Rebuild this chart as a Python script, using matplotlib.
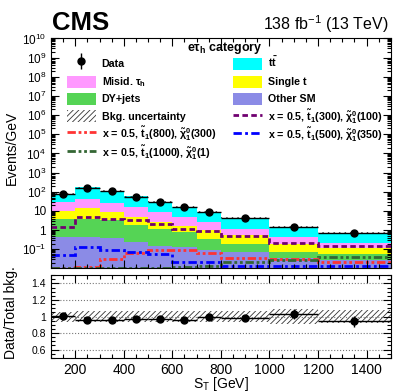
import numpy as np
import matplotlib
matplotlib.use('Agg')
import matplotlib.pyplot as plt
from matplotlib.patches import Patch, Rectangle
from matplotlib.lines import Line2D
from matplotlib.legend_handler import HandlerPatch
from matplotlib.ticker import FixedLocator, MultipleLocator, LogLocator, FuncFormatter, NullFormatter

plt.rcParams['font.family'] = 'Liberation Sans'
plt.rcParams['mathtext.fontset'] = 'custom'
plt.rcParams['mathtext.rm'] = 'Liberation Sans:bold'
plt.rcParams['mathtext.it'] = 'Liberation Sans:bold'
plt.rcParams['mathtext.bf'] = 'Liberation Sans:bold'
plt.rcParams['hatch.linewidth'] = 0.6

# bins in S_T [GeV]
edges = [100, 200, 300, 400, 500, 600, 700, 800, 1000, 1200, 1500]

# backgrounds, events/GeV
other_sm = [0.45, 0.42, 0.37, 0.25, 0.15, 0.135, 0.09, 0.074, 0.034, 0.027]
dy_jets = [3.35, 3.18, 3.13, 1.55, 0.95, 0.685, 0.25, 0.106, 0.04, 0.029]
single_t = [6.7, 9.9, 5.5, 2.8, 1.6, 0.88, 0.66, 0.37, 0.126, 0.054]
misid_tau = [19.5, 27.5, 17.0, 11.4, 5.6, 3.2, 1.7, 0.65, 0.22, 0.11]
ttbar = [50.0, 129.0, 86.0, 41.0, 22.7, 11.1, 6.3, 3.3, 1.03, 0.5]
bkg_unc = [0.06, 0.07, 0.07, 0.07, 0.07, 0.07, 0.07, 0.07, 0.09, 0.08]

# data
data = [81.0, 162.0, 107.0, 55.0, 30.0, 15.4, 9.0, 4.4, 1.5, 0.68]
data_err = [0.011, 0.008, 0.01, 0.013, 0.018, 0.026, 0.033, 0.034, 0.058, 0.07]

# signals
sig_300_100 = [1.4, 4.7, 3.9, 3.3, 2.1, 1.15, 0.85, 0.47, 0.21, 0.146]
sig_800_300 = [0.011, 0.012, 0.03, 0.065, 0.095, 0.09, 0.065, 0.034, 0.03, 0.022]
sig_500_350 = [0.05, 0.125, 0.09, 0.074, 0.054, 0.022, 0.022, 0.014, 0.014, 0.014]
sig_1000_1 = [0.011, 0.011, 0.011, 0.011, 0.011, 0.012, 0.014, 0.023, 0.026, 0.042]

edges = np.array(edges, dtype=float)
centers = 0.5 * (edges[1:] + edges[:-1])
halfw = 0.5 * (edges[1:] - edges[:-1])

fig = plt.figure(figsize=(4.11, 3.92), dpi=100)
ax = fig.add_axes([0.124, 0.316, 0.827, 0.586])
ax2 = fig.add_axes([0.124, 0.087, 0.827, 0.211])

# stacked backgrounds
stack = [(other_sm, '#8b8be6', 'Other SM'),
         (dy_jets, '#55d455', 'DY+jets'),
         (single_t, '#ffff00', 'Single t'),
         (misid_tau, '#ff99ff', r'Misid. $\tau_\mathregular{h}$'),
         (ttbar, '#00ffff', r't$\bar{\mathregular{t}}$')]
bottom = np.full(len(centers), 1e-4)
patches = {}
for vals, col, lab in stack:
    top = bottom + np.array(vals)
    ax.stairs(top, edges, baseline=bottom, fill=True, color=col, lw=0)
    patches[lab] = Patch(facecolor=col, edgecolor='none', label=lab)
    bottom = top
total = bottom
unc = np.array(bkg_unc)
ax.stairs(total * (1 + unc), edges, baseline=total * (1 - unc), fill=True,
          facecolor='none', edgecolor='#333333', hatch='//////', lw=0)

# signals
sigs = [(sig_300_100, '#700070', (0, (2, 1.2)), r'x = 0.5, $\tilde{\mathregular{t}}_\mathregular{1}$(300), $\tilde{\chi}^\mathregular{0}_\mathregular{1}$(100)'),
        (sig_800_300, '#ff3333', (0, (3, 1, 1, 1, 1, 1)), r'x = 0.5, $\tilde{\mathregular{t}}_\mathregular{1}$(800), $\tilde{\chi}^\mathregular{0}_\mathregular{1}$(300)'),
        (sig_500_350, '#0000ff', (0, (3, 1.2, 1, 1.2)), r'x = 0.5, $\tilde{\mathregular{t}}_\mathregular{1}$(500), $\tilde{\chi}^\mathregular{0}_\mathregular{1}$(350)'),
        (sig_1000_1, '#336633', (0, (3, 1, 1, 1, 1, 1)), r'x = 0.5, $\tilde{\mathregular{t}}_\mathregular{1}$(1000), $\tilde{\chi}^\mathregular{0}_\mathregular{1}$(1)')]
sig_h = []
for vals, col, ls, lab in sigs:
    ax.stairs(vals, edges, baseline=None, color=col, ls=ls, lw=2)
    sig_h.append(Line2D([], [], color=col, ls=ls, lw=2, label=lab))

data = np.array(data)
derr = np.array(data_err)
ax.errorbar(centers, data, xerr=halfw, yerr=data * derr, fmt='o', color='k',
            ms=5, elinewidth=1, capsize=0)

ax.set_yscale('log')
ax.set_ylim(0.0104, 1e10)
ax.set_xlim(100, 1500)

def logfmt(v, pos):
    k = int(round(np.log10(v)))
    if k == 0:
        return '1'
    if k == 1:
        return '10'
    return r'$\mathregular{10^{%d}}$' % k

ax.yaxis.set_major_locator(LogLocator(base=10, numticks=20))
ax.yaxis.set_minor_locator(LogLocator(base=10, subs=np.arange(2, 10), numticks=20))
ax.yaxis.set_major_formatter(FuncFormatter(logfmt))
ax.yaxis.set_minor_formatter(NullFormatter())
ax.xaxis.set_major_locator(MultipleLocator(200))
ax.xaxis.set_minor_locator(MultipleLocator(50))
ax.tick_params(axis='x', labelbottom=False)
for a in (ax, ax2):
    a.tick_params(which='both', direction='in', top=True, right=True, width=0.8)
    a.tick_params(which='major', length=6)
    a.tick_params(which='minor', length=3)
ax.tick_params(axis='y', labelsize=8.5)
ax.set_ylabel('Events/GeV', fontsize=10)
ax.yaxis.set_label_coords(-0.095, 0.525)

# legend
def small_box(legend, orig_handle, xdescent, ydescent, width, height, fontsize):
    h = 1.12 * fontsize
    return Rectangle((-xdescent, -ydescent + 0.5 * (height - h)), width, h)

data_h = (Line2D([], [], marker='|', color='k', ms=11, mew=1, ls='none'),
          Line2D([], [], marker='o', color='k', ms=5, ls='none'))
unc_h = Patch(facecolor='none', edgecolor='#333333', hatch='//////', lw=0, label='Bkg. uncertainty')
handles = [data_h, patches[r'Misid. $\tau_\mathregular{h}$'], patches['DY+jets'], unc_h, sig_h[1], sig_h[3],
           patches[r't$\bar{\mathregular{t}}$'], patches['Single t'], patches['Other SM'], sig_h[0], sig_h[2]]
labels = ['Data', r'Misid. $\tau_\mathregular{h}$', 'DY+jets', 'Bkg. uncertainty', sigs[1][3], sigs[3][3],
          r't$\bar{\mathregular{t}}$', 'Single t', 'Other SM', sigs[0][3], sigs[2][3]]
leg = ax.legend(handles, labels, ncol=2, loc='upper left', bbox_to_anchor=(0.047, 0.995),
                frameon=False, prop={'weight': 'bold', 'size': 7.7}, handlelength=2.7,
                handleheight=2.2, handletextpad=0.55, labelspacing=-0.045, columnspacing=1.6,
                borderpad=0, borderaxespad=0,
                handler_map={Patch: HandlerPatch(patch_func=small_box)},
                title=r'e$\tau_\mathregular{h}$ category', title_fontproperties={'weight': 'bold', 'size': 9})

# ratio panel
ratio = data / total
ax2.stairs(1 + unc, edges, baseline=1 - unc, fill=True, facecolor='none',
           edgecolor='#333333', hatch='//////', lw=0)
ax2.errorbar(centers, ratio, xerr=halfw, yerr=ratio * derr, fmt='o', color='k',
             ms=5, elinewidth=1, capsize=0)
ax2.set_xlim(100, 1500)
ax2.set_ylim(0.5, 1.5)
ax2.yaxis.set_major_locator(FixedLocator([0.6, 0.8, 1.0, 1.2, 1.4]))
ax2.yaxis.set_major_formatter(FuncFormatter(lambda v, p: '%g' % v))
ax2.yaxis.set_minor_locator(MultipleLocator(0.05))
ax2.xaxis.set_major_locator(MultipleLocator(200))
ax2.xaxis.set_minor_locator(MultipleLocator(50))
ax2.yaxis.grid(True, ls=':', color='#777777', lw=0.8)
ax2.tick_params(axis='y', labelsize=7.5)
ax2.tick_params(axis='x', labelsize=10)
ax2.set_xlabel(r'S$_\mathregular{T}$ [GeV]', fontsize=10, labelpad=-1)
ax2.set_ylabel('Data/Total bkg.', fontsize=10)
ax2.yaxis.set_label_coords(-0.097, 0.55)

fig.text(0.127, 1 - 30 / 392, 'CMS', fontsize=18.5, fontweight='bold', ha='left', va='baseline')
fig.text(0.946, 1 - 30 / 392, r'138 fb$^\mathregular{-1}$ (13 TeV)', fontsize=11.5, ha='right', va='baseline')

fig.savefig('out.png', dpi=100)
